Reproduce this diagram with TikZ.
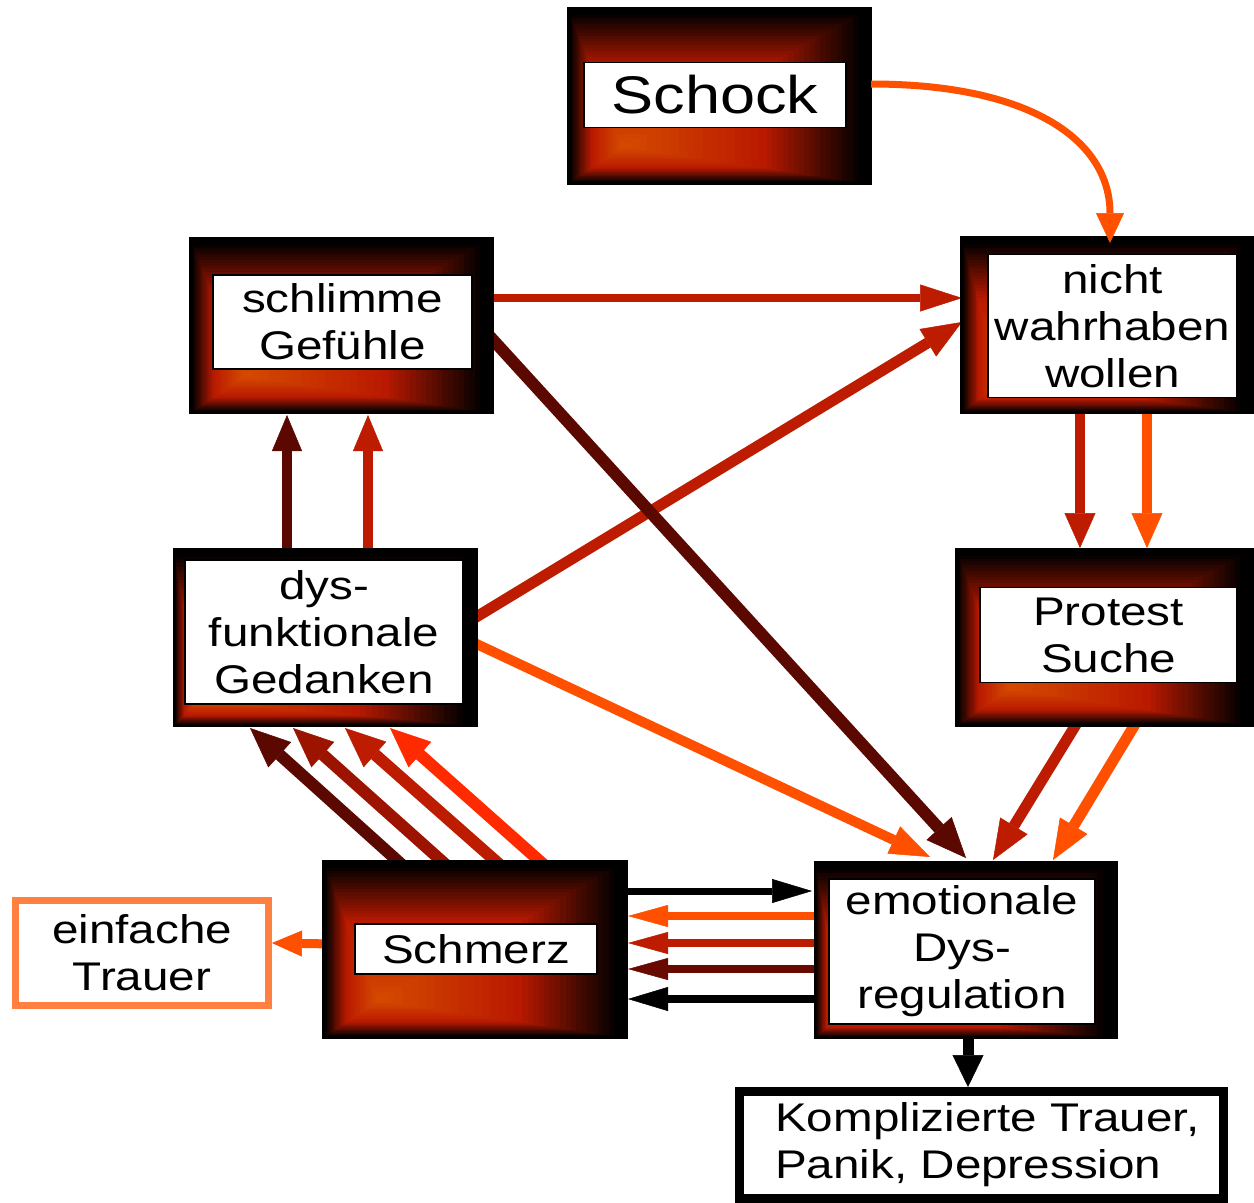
\documentclass[tikz,border=0pt]{standalone}
\usepackage{fontspec}
\setmainfont[FakeStretch=1.19]{Liberation Sans}
\usetikzlibrary{arrows.meta,calc}
\pgfdeclarelayer{bg}
\pgfdeclarelayer{mid}
\pgfsetlayers{bg,mid,main}
\definecolor{glowred}{RGB}{185,25,0}
\definecolor{glowor}{RGB}{214,76,0}
\definecolor{cA}{RGB}{90,8,0}
\definecolor{cB}{RGB}{156,20,0}
\definecolor{cC}{RGB}{190,28,0}
\definecolor{cD}{RGB}{255,42,0}
\definecolor{cO}{RGB}{255,80,0}
\definecolor{cE}{RGB}{255,128,64}
\definecolor{cF}{RGB}{105,10,0}
\newcommand\glowboxf[7]{%
  \pgfmathsetmacro\gfx{#2+#6*(#4-#2)}%
  \pgfmathsetmacro\gfy{#3+#7*(#5-#3)}%
  \fill[black] (#2,#3) rectangle (#4,#5);%
  \foreach \gi in {0,...,18}{%
    \pgfmathsetmacro\gt{0.03+0.39*\gi/18}%
    \pgfmathtruncatemacro\gp{100*\gi/18}%
    \fill[glowred!\gp!black] ({#2+\gt*(\gfx-#2)},{#3+\gt*(\gfy-#3)}) rectangle ({#4+\gt*(\gfx-#4)},{#5+\gt*(\gfy-#5)});%
  }%
  \foreach \gi in {1,...,18}{%
    \pgfmathsetmacro\gt{0.42+0.58*\gi/18}%
    \pgfmathtruncatemacro\gp{100*\gi/18}%
    \fill[glowor!\gp!glowred] ({#2+\gt*(\gfx-#2)},{#3+\gt*(\gfy-#3)}) rectangle ({#4+\gt*(\gfx-#4)},{#5+\gt*(\gfy-#5)});%
  }%
  \pgfmathsetmacro\gw{#4-#2}%
  \pgfmathsetmacro\gh{#5-#3}%
  \node[gbox, minimum width=\gw pt, minimum height=\gh pt] (#1) at ({(#2+#4)/2},{(#3+#5)/2}) {};%
}
\newcommand\glowbox[5]{\glowboxf{#1}{#2}{#3}{#4}{#5}{0.18}{0.79}}
\begin{document}
\begin{tikzpicture}[x=1pt,y=-1pt,
  txt/.style={font=\fontsize{40}{47}\selectfont, align=center},
  wbox/.style={draw=black, line width=1.5pt, fill=white, inner sep=0pt, txt},
  gbox/.style={draw=black, line width=2pt, inner sep=0pt, outer sep=0pt},
  ah/.style 2 args={-{Triangle[length=#1pt,width=#2pt,line width=0.5pt]}}
]
\begin{pgfonlayer}{bg}
\fill[white] (0,0) rectangle (1254,1203);
\end{pgfonlayer}
\useasboundingbox (0,0) rectangle (1254,1203);

% glowing boxes
\glowbox{schock}{568}{8}{871}{184}
\glowbox{schl}{190}{238}{493}{413}
\glowboxf{nicht}{961}{237}{1253}{413}{0.14}{0.82}
\glowbox{prot}{956}{549}{1253}{726}
\glowboxf{dysf}{174}{549}{477}{726}{0.08}{0.86}
\glowbox{schm}{323}{861}{627}{1038}
\glowboxf{emo}{815}{862}{1117}{1038}{0.09}{0.86}

% inner text boxes
\node[wbox, minimum width=262pt, minimum height=65pt, font=\fontsize{53}{60}\selectfont] (schockT) at (715,95) {Schock};
\node[wbox, minimum width=259pt, minimum height=94pt] (schlT) at (342.5,322) {schlimme\\Gefühle};
\node[wbox, minimum width=249pt, minimum height=143pt] (nichtT) at (1112.5,326) {nicht\\wahrhaben\\wollen};
\node[wbox, minimum width=257pt, minimum height=95pt] (protT) at (1108.5,635) {Protest\\Suche};
\node[wbox, minimum width=278pt, minimum height=144pt] (dysfT) at (324,632) {dys-\\funktionale\\Gedanken};
\node[wbox, minimum width=242pt, minimum height=50pt] (schmT) at (476,949) {Schmerz};
\node[wbox, minimum width=266pt, minimum height=145pt] (emoT) at (962,951.5) {emotionale\\Dys-\\regulation};

% plain boxes
\node[draw=cE, line width=7pt, fill=white, minimum width=253pt, minimum height=105pt, inner sep=0pt, txt] (einf) at (142,953) {einfache\\Trauer};
\node[draw=black, line width=9pt, fill=white, minimum width=484pt, minimum height=107pt] (kompl) at (981.5,1145) {};
\node[txt, align=left, anchor=west, inner sep=0pt] (komplT) at (775,1145) {Komplizierte Trauer,\\Panik, Depression};

% connectors (under the boxes)
\begin{pgfonlayer}{mid}
\draw[cC, line width=8pt, ah={42}{27}] ($(schl.north west)+(295,60)$) -- ($(nicht.north west)+(1,61)$);
\draw[cC, line width=11pt, ah={40}{32}] ($(dysf.north west)+(294,73)$) -- ($(nicht.north west)+(1,85)$);
\draw[cA, line width=12pt, ah={40}{34}] ($(schl.north west)+(294,92)$) -- ($(emo.north west)+(151,-4)$);
\draw[cO, line width=10pt, ah={40}{30}] ($(dysf.north west)+(292,90)$) -- ($(emo.north west)+(115,-5)$);
\draw[cA, line width=10pt, ah={36}{30}] ($(dysf.north west)+(113,10)$) -- ($(schl.north west)+(97,177)$);
\draw[cC, line width=10pt, ah={36}{30}] ($(dysf.north west)+(194,10)$) -- ($(schl.north west)+(178,177)$);
\draw[cC, line width=10pt, ah={35}{31}] ($(nicht.north west)+(119,168)$) -- ($(prot.north west)+(124,-1)$);
\draw[cO, line width=10pt, ah={35}{31}] ($(nicht.north west)+(186,168)$) -- ($(prot.north west)+(191,-1)$);
\draw[cC, line width=11pt, ah={40}{32}] ($(prot.north west)+(124,169)$) -- ($(emo.north west)+(178,-2)$);
\draw[cO, line width=11pt, ah={40}{32}] ($(prot.north west)+(184,167)$) -- ($(emo.north west)+(238,-2)$);
\draw[cA, line width=12pt, ah={40}{34}] ($(schm.north west)+(87,11)$) -- ($(dysf.north west)+(76,179)$);
\draw[cB, line width=12pt, ah={40}{34}] ($(schm.north west)+(131,11)$) -- ($(dysf.north west)+(119,179)$);
\draw[cC, line width=12pt, ah={40}{34}] ($(schm.north west)+(185,11)$) -- ($(dysf.north west)+(171,179)$);
\draw[cD, line width=12pt, ah={40}{34}] ($(schm.north west)+(229,11)$) -- ($(dysf.north west)+(216,179)$);
\draw[black, line width=7pt, ah={40}{24}] ($(schm.north west)+(297,30)$) -- ($(emo.north west)+(-3,29)$);
\draw[cO, line width=8pt, ah={40}{22}] ($(emo.north west)+(10,54)$) -- ($(schm.north west)+(305,55)$);
\draw[cC, line width=8pt, ah={40}{22}] ($(emo.north west)+(10,81)$) -- ($(schm.north west)+(305,82)$);
\draw[cF, line width=8pt, ah={40}{22}] ($(emo.north west)+(10,107)$) -- ($(schm.north west)+(305,108)$);
\draw[black, line width=8pt, ah={40}{24}] ($(emo.north west)+(10,137)$) -- ($(schm.north west)+(305,138)$);
\draw[cO, line width=9pt, ah={30}{26}] ($(schm.north west)+(12,83)$) -- ($(einf.north west)+(260,46)$);
\draw[black, line width=11pt, ah={32}{31}] ($(emo.north west)+(153,168)$) -- ($(kompl.north west)+(233,0)$);
\end{pgfonlayer}

% connector on top
\draw[cO, line width=7pt, ah={30}{28}] ($(schock.north west)+(303,76)$) .. controls (1030,84) and (1110,140) .. ($(nicht.north west)+(149,6)$);
\end{tikzpicture}
\end{document}
